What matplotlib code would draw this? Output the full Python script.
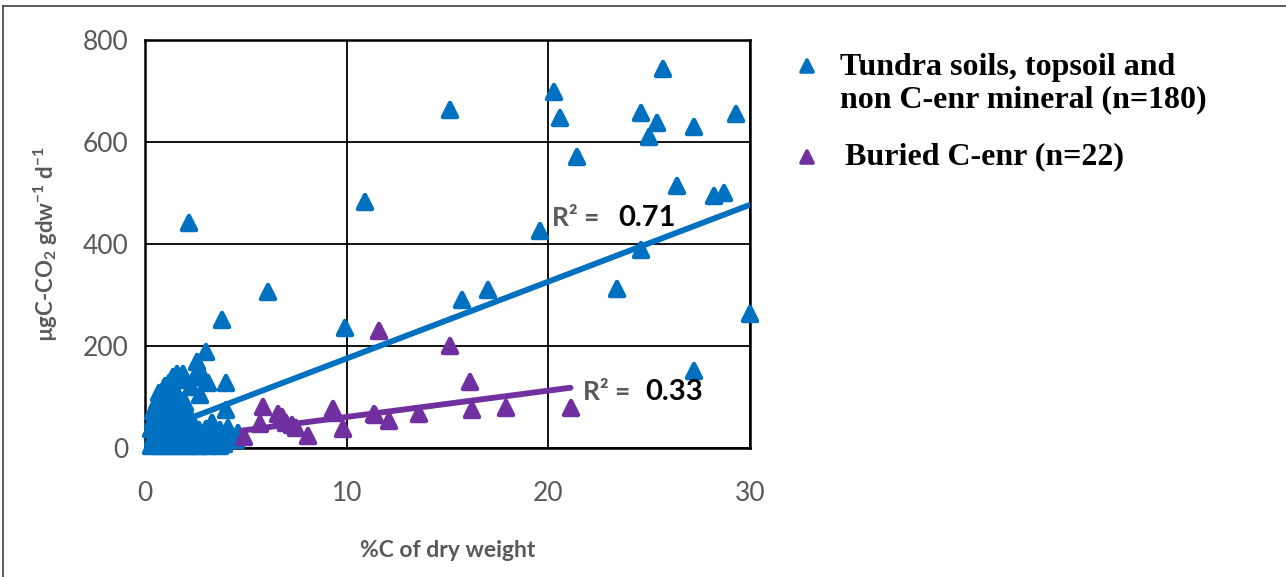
import matplotlib
matplotlib.use("Agg")
import matplotlib.pyplot as plt
from matplotlib.lines import Line2D
from matplotlib.markers import MarkerStyle

# ---------------- data ----------------
tundra_x = [
    # scattered points
    2.2, 6.1, 3.8, 4.0, 4.0, 10.9, 15.1, 20.3, 20.6, 21.4, 25.7, 24.6, 25.4, 25.0,
    27.2, 29.3, 26.4, 28.2, 28.7, 19.6, 24.6, 23.4, 17.0, 15.7, 9.9, 30.0, 27.2,
    4.1, 4.6, 3.7, 3.3, 4.5, 3.9,
    # dense cluster near origin
    0.3, 0.5, 0.7, 0.9, 1.1, 1.3, 1.5, 1.7, 1.9, 2.1, 2.3, 2.5, 2.7, 2.9, 3.1, 3.4, 3.7,
    0.4, 0.6, 0.8, 1.0, 1.2, 1.4, 1.6, 1.8, 2.0, 2.2, 2.4, 2.6, 2.8, 3.0, 3.3, 3.6, 4.0, 4.5,
    0.3, 0.5, 0.7, 0.9, 1.1, 1.3, 1.5, 1.7, 1.9, 2.1, 2.4, 2.7, 3.0, 3.3, 3.7, 4.1,
    0.4, 0.6, 0.8, 1.0, 1.2, 1.4, 1.6, 1.8, 2.0, 2.3, 3.3,
    0.4, 0.6, 0.9, 1.1, 1.3, 1.5, 1.7, 1.9,
    0.6, 0.8, 1.0, 1.2, 1.4, 1.6, 2.0,
    0.7, 0.9, 1.1, 1.3, 1.6,
    1.0, 1.2, 1.4, 1.6, 1.9, 1.7, 2.6, 2.7, 3.0, 2.9, 3.1, 2.75, 2.5, 2.3,
]
tundra_y = [
    441, 306, 251, 127, 75, 483, 663, 698, 647, 571, 743, 657, 637, 610,
    630, 654, 514, 495, 500, 426, 388, 312, 310, 290, 235, 263, 151,
    40, 29, 31, 49, 15, 8,
    3, 8, 3, 8, 3, 8, 3, 8, 3, 8, 3, 8, 3, 8, 3, 8, 3,
    20, 22, 18, 21, 19, 22, 20, 18, 21, 20, 22, 19, 21, 20, 18, 21, 20, 22,
    38, 36, 40, 37, 39, 38, 36, 40, 38, 37, 39, 36, 38, 40, 36, 38,
    55, 57, 54, 56, 55, 57, 54, 56, 55, 56, 50,
    72, 74, 71, 73, 72, 74, 71, 70,
    90, 92, 89, 91, 90, 92, 88,
    108, 110, 107, 109, 106,
    122, 128, 139, 145, 145, 133, 169, 155, 188, 140, 128, 104, 140, 120,
]
buried_x = [4.9, 5.7, 5.85, 6.6, 7.0, 7.5, 8.1, 9.3, 9.35, 9.8, 11.35, 11.6,
            12.1, 13.6, 15.1, 16.1, 16.2, 17.9, 21.1, 6.8, 11.4, 7.3]
buried_y = [22, 47, 80, 66, 50, 40, 24, 76, 68, 37, 66, 229,
            52, 66, 200, 130, 74, 78, 78, 60, 64, 45]

tundra_label = "Tundra soils, topsoil and\nnon C-enr mineral (n=180)"
buried_label = "Buried C-enr (n=22)"

# linear trend lines (slope, intercept) and x-range
tundra_fit = (15.07, 24.8)
tundra_fit_range = (1.7, 30.0)
buried_fit = (5.16, 9.3)
buried_fit_range = (4.8, 21.1)
tundra_r2 = "0.71"
buried_r2 = "0.33"

x_ticks = [0, 10, 20, 30]
y_ticks = [0, 200, 400, 600, 800]

# ---------------- style ----------------
BLUE = "#0070C0"
PURPLE = "#7030A0"
GRAY = "#595959"

plt.rcParams["font.family"] = ["Lato", "DejaVu Sans"]
plt.rcParams["mathtext.default"] = "regular"

W, H = 1286, 577
fig = plt.figure(figsize=(W / 100, H / 100), dpi=100)
ax = fig.add_axes([145 / W, 1 - 448 / H, 605 / W, 408 / H])

tri = MarkerStyle("^", joinstyle="round")
mk = dict(marker=tri, linestyle="none", markersize=10, markeredgewidth=3.2)
ax.plot(tundra_x, tundra_y, color=BLUE, markeredgecolor=BLUE, clip_on=False,
        zorder=3, **mk)
ax.plot(buried_x, buried_y, color=PURPLE, markeredgecolor=PURPLE, clip_on=False,
        zorder=4, **mk)


def fit_line(fit, rng, color):
    x0, x1 = rng
    ax.plot([x0, x1], [fit[0] * x0 + fit[1], fit[0] * x1 + fit[1]],
            color=color, lw=4.2, solid_capstyle="round", zorder=5)


fit_line(tundra_fit, tundra_fit_range, BLUE)
fit_line(buried_fit, buried_fit_range, PURPLE)

ax.set_xlim(0, 30)
ax.set_ylim(0, 800)
ax.set_xticks(x_ticks)
ax.set_yticks(y_ticks)
ax.grid(True, color="black", lw=1.3, zorder=1)
ax.set_axisbelow(True)
for s in ax.spines.values():
    s.set_color("black")
    s.set_linewidth(1.8)
ax.tick_params(axis="both", length=0, labelsize=19, labelcolor=GRAY)
ax.tick_params(axis="y", pad=12)
ax.tick_params(axis="x", pad=24)

ax.set_xlabel("%C of dry weight", fontsize=16.5, fontweight="bold", color=GRAY,
              labelpad=24)
ax.set_ylabel("µgC-CO$_2$ gdw$^{-1}$ d$^{-1}$", fontsize=16, fontweight="bold",
              color=GRAY, labelpad=16)

# R² annotations
ax.text(20.2, 451, "R² =", fontsize=19, fontweight="bold", color=GRAY, va="center")
ax.text(23.45, 451, tundra_r2, fontsize=21, fontweight="bold", color="black", va="center")
ax.text(21.7, 110, "R² =", fontsize=19, fontweight="bold", color=GRAY, va="center")
ax.text(24.8, 110, buried_r2, fontsize=21, fontweight="bold", color="black", va="center")


# legend (manual, in figure pixels)
def fpx(x, y):
    return x / W, 1 - y / H


leg_mk = dict(marker=tri, linestyle="none", markersize=8.5, markeredgewidth=2.6)
for (lx, ly), col in [((807, 66), BLUE), ((807, 157), PURPLE)]:
    fx, fy = fpx(lx, ly)
    fig.add_artist(Line2D([fx], [fy], transform=fig.transFigure,
                          color=col, markeredgecolor=col, **leg_mk))

lab_font = dict(family=["Liberation Serif"], fontsize=23, fontweight="bold",
                color="black")
fig.text(*fpx(840, 84), tundra_label, va="center", ha="left", linespacing=1.15,
         **lab_font)
fig.text(*fpx(845, 157), buried_label, va="center", ha="left", **lab_font)

# outer frame (top and left edges visible)
fig.add_artist(Line2D([3 / W, 1], [1 - 6 / H, 1 - 6 / H], transform=fig.transFigure,
                      color="#404040", lw=1.2))
fig.add_artist(Line2D([3 / W, 3 / W], [0, 1 - 6 / H], transform=fig.transFigure,
                      color="#404040", lw=1.2))

fig.savefig("out.png", dpi=100)
